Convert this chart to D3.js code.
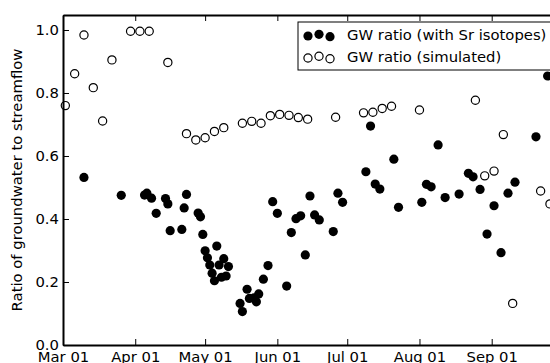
<!DOCTYPE html>
<html>
<head>
<meta charset="utf-8">
<script src="https://cdn.jsdelivr.net/npm/d3@7"></script>
<style>
  body { margin: 0; background: #fff; }
  svg { display: block; overflow: hidden; }
  text { font-family: "DejaVu Sans", sans-serif; }
</style>
</head>
<body>
<div id="chart"></div>
<script>
// GW ratio estimated from Sr isotopes (filled circles)
const srDates = [
  "2014-03-10", "2014-03-26", "2014-04-05", "2014-04-06", "2014-04-08", "2014-04-10",
  "2014-04-14", "2014-04-15", "2014-04-16", "2014-04-21", "2014-04-22", "2014-04-23",
  "2014-04-28", "2014-04-29", "2014-04-30", "2014-05-01", "2014-05-02", "2014-05-03",
  "2014-05-04", "2014-05-05", "2014-05-06", "2014-05-07", "2014-05-08", "2014-05-09",
  "2014-05-10", "2014-05-11", "2014-05-16", "2014-05-17", "2014-05-19", "2014-05-20",
  "2014-05-22", "2014-05-23", "2014-05-24", "2014-05-26", "2014-05-28", "2014-05-30",
  "2014-06-01", "2014-06-05", "2014-06-07", "2014-06-09", "2014-06-11", "2014-06-13",
  "2014-06-15", "2014-06-17", "2014-06-19", "2014-06-25", "2014-06-27", "2014-06-29",
  "2014-07-09", "2014-07-11", "2014-07-13", "2014-07-15", "2014-07-21", "2014-07-23",
  "2014-08-02", "2014-08-04", "2014-08-06", "2014-08-09", "2014-08-12", "2014-08-18",
  "2014-08-22", "2014-08-24", "2014-08-27", "2014-08-30", "2014-09-02", "2014-09-05",
  "2014-09-08", "2014-09-11", "2014-09-20", "2014-09-25"
];
const srRatio = [
  0.532, 0.475, 0.476, 0.482, 0.466, 0.418,
  0.465, 0.448, 0.363, 0.367, 0.435, 0.478,
  0.419, 0.407, 0.351, 0.299, 0.277, 0.254,
  0.228, 0.204, 0.314, 0.254, 0.215, 0.274,
  0.219, 0.249, 0.132, 0.106, 0.177, 0.148,
  0.150, 0.137, 0.162, 0.209, 0.252, 0.455,
  0.418, 0.187, 0.357, 0.401, 0.410, 0.286,
  0.473, 0.413, 0.397, 0.360, 0.482, 0.453,
  0.550, 0.695, 0.511, 0.495, 0.590, 0.437,
  0.453, 0.510, 0.502, 0.635, 0.468, 0.479,
  0.545, 0.534, 0.494, 0.352, 0.442, 0.293,
  0.482, 0.517, 0.661, 0.854
];

// simulated GW ratio (open circles)
const simDates = [
  "2014-03-02", "2014-03-06", "2014-03-10", "2014-03-14", "2014-03-18", "2014-03-22",
  "2014-03-30", "2014-04-03", "2014-04-07", "2014-04-15", "2014-04-23", "2014-04-27",
  "2014-05-01", "2014-05-05", "2014-05-09", "2014-05-17", "2014-05-21", "2014-05-25",
  "2014-05-29", "2014-06-02", "2014-06-06", "2014-06-10", "2014-06-14", "2014-06-26",
  "2014-07-08", "2014-07-12", "2014-07-16", "2014-07-20", "2014-08-01", "2014-08-25",
  "2014-08-29", "2014-09-02", "2014-09-06", "2014-09-10", "2014-09-22", "2014-09-26"
];
const simRatio = [
  0.760, 0.861, 0.984, 0.817, 0.711, 0.905,
  0.996, 0.996, 0.996, 0.897, 0.671, 0.651,
  0.658, 0.678, 0.690, 0.704, 0.710, 0.704,
  0.728, 0.732, 0.729, 0.722, 0.717, 0.723,
  0.737, 0.739, 0.751, 0.758, 0.746, 0.777,
  0.537, 0.552, 0.668, 0.132, 0.489, 0.448
];

const yTicks = [0, 0.2, 0.4, 0.6, 0.8, 1.0];
const legendLabels = ["GW ratio (with Sr isotopes)", "GW ratio (simulated)"];
const yLabel = "Ratio of groundwater to streamflow";

const width = 550, height = 363;
const margin = { left: 63, top: 15, bottom: 18 };
const plotRight = 561.6; // axes run a bit past the cropped image edge
const fontSize = 14.8;

const parse = d3.timeParse("%Y-%m-%d");

const svg = d3.select("#chart")
  .append("svg")
  .attr("width", width)
  .attr("height", height);

const x = d3.scaleTime()
  .domain([parse("2014-03-01"), parse("2014-10-01")])
  .range([margin.left, plotRight]);

const y = d3.scaleLinear()
  .domain([0, 1.0476])
  .range([height - margin.bottom, margin.top]);

const monthTicks = d3.timeMonth.range(parse("2014-03-01"), parse("2014-10-01"));

// axes, ticks pointing inward like matplotlib classic
const xAxis = svg.append("g")
  .attr("transform", `translate(0,${y(0)})`)
  .call(d3.axisBottom(x).tickValues(monthTicks).tickFormat(d3.timeFormat("%b %d"))
    .tickSize(-6).tickSizeOuter(0).tickPadding(6));

const xTop = svg.append("g")
  .attr("transform", `translate(0,${margin.top})`)
  .call(d3.axisTop(x).tickValues(monthTicks).tickFormat("")
    .tickSize(-6).tickSizeOuter(0));

const yAxis = svg.append("g")
  .attr("transform", `translate(${margin.left},0)`)
  .call(d3.axisLeft(y).tickValues(yTicks).tickFormat(d3.format(".1f"))
    .tickSize(-6).tickSizeOuter(0).tickPadding(4));

const yRight = svg.append("g")
  .attr("transform", `translate(${plotRight},0)`)
  .call(d3.axisRight(y).tickValues(yTicks).tickFormat("")
    .tickSize(-6).tickSizeOuter(0));

[xAxis, xTop, yAxis, yRight].forEach(g => {
  g.select(".domain").attr("stroke", "#000").attr("stroke-width", 2);
  g.selectAll(".tick line").attr("stroke", "#000").attr("stroke-width", 1);
  g.selectAll(".tick text")
    .attr("fill", "#000")
    .style("font-size", fontSize + "px")
    .style("font-family", "DejaVu Sans");
});

svg.append("text")
  .attr("transform", `translate(22,${(y(0) + margin.top) / 2}) rotate(-90)`)
  .attr("text-anchor", "middle")
  .style("font-size", fontSize + "px")
  .text(yLabel);

const r = 4.6;

// filled points
svg.append("g")
  .selectAll("circle")
  .data(srDates.map((d, i) => ({ date: parse(d), value: srRatio[i] })))
  .enter()
  .append("circle")
  .attr("cx", d => x(d.date))
  .attr("cy", d => y(d.value))
  .attr("r", r)
  .attr("fill", "#000");

// open points
svg.append("g")
  .selectAll("circle")
  .data(simDates.map((d, i) => ({ date: parse(d), value: simRatio[i] })))
  .enter()
  .append("circle")
  .attr("cx", d => x(d.date))
  .attr("cy", d => y(d.value))
  .attr("r", r - 0.5)
  .attr("fill", "none")
  .attr("stroke", "#000")
  .attr("stroke-width", 1.2);

// legend
const legend = svg.append("g").attr("transform", "translate(298,22)");

legend.append("rect")
  .attr("width", 258)
  .attr("height", 48)
  .attr("fill", "#fff")
  .attr("stroke", "#000")
  .attr("stroke-width", 1);

const markerX = [10, 21, 32];
const markerDy = [1, -0.7, 1.7];

legendLabels.forEach((label, i) => {
  const rowY = 13 + i * 22;
  markerX.forEach((mx, j) => {
    legend.append("circle")
      .attr("cx", mx)
      .attr("cy", rowY + markerDy[j])
      .attr("r", i === 0 ? r : r - 0.5)
      .attr("fill", i === 0 ? "#000" : "none")
      .attr("stroke", i === 0 ? "none" : "#000")
      .attr("stroke-width", 1.2);
  });
  legend.append("text")
    .attr("x", 49)
    .attr("y", rowY + 5)
    .style("font-size", fontSize + "px")
    .text(label);
});
</script>
</body>
</html>
